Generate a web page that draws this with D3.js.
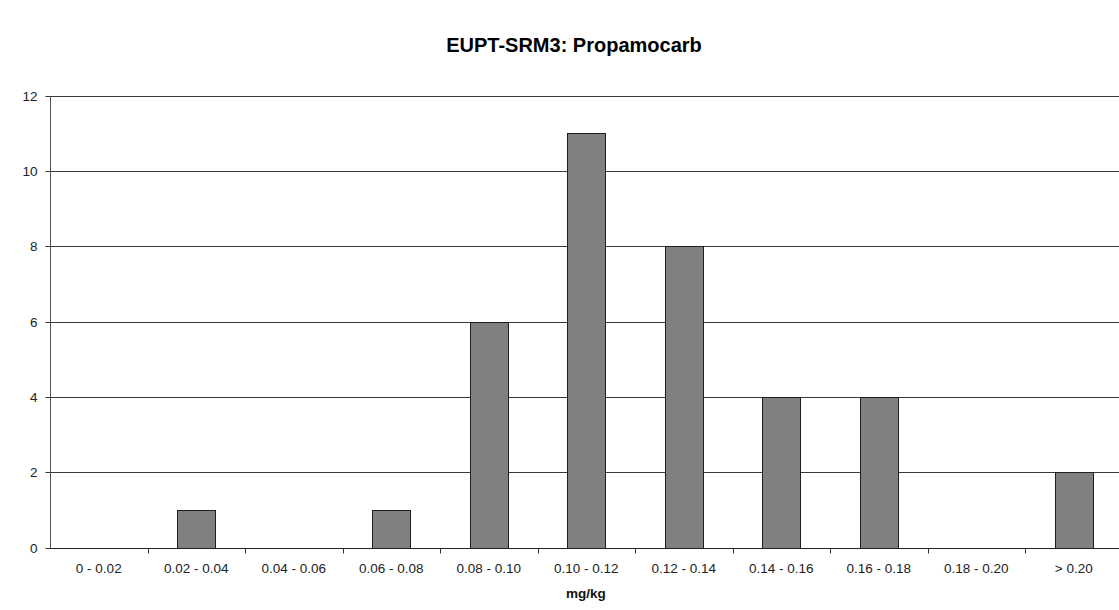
<!DOCTYPE html>
<html>
<head>
<meta charset="utf-8">
<script src="https://cdn.jsdelivr.net/npm/d3@7"></script>
<style>
  html, body { margin: 0; padding: 0; background: #ffffff; }
  svg { display: block; }
  text { font-family: "Liberation Sans", Arial, sans-serif; }
</style>
</head>
<body>
<svg id="chart" width="1119" height="610"></svg>
<script>
const title = "EUPT-SRM3: Propamocarb";
const xTitle = "mg/kg";
const categories = ["0 - 0.02", "0.02 - 0.04", "0.04 - 0.06", "0.06 - 0.08", "0.08 - 0.10",
  "0.10 - 0.12", "0.12 - 0.14", "0.14 - 0.16", "0.16 - 0.18", "0.18 - 0.20", "> 0.20"];
const counts = [0, 1, 0, 1, 6, 11, 8, 4, 4, 0, 2];
const yTicks = [0, 2, 4, 6, 8, 10, 12];

(function () {
const svg = d3.select("#chart");
const W = 1119, H = 610;
const pLeft = 50, pTop = 95.5, pBottom = 547.5;
const step = 97.5;
const labelSize = 13.5;

svg.append("rect").attr("width", W).attr("height", H).attr("fill", "#ffffff");

const x = d3.scaleBand().domain(categories).range([pLeft, pLeft + step * categories.length]).padding(0);
const y = d3.scaleLinear().domain([0, 12]).range([pBottom, pTop]);

// gridlines
svg.append("g").selectAll("line").data(yTicks.filter(d => d > 0)).join("line")
  .attr("x1", pLeft).attr("x2", W)
  .attr("y1", d => Math.round(y(d)) + 0.5).attr("y2", d => Math.round(y(d)) + 0.5)
  .attr("stroke", "#3a3a3a").attr("stroke-width", 1);

// bars
const barW = x.bandwidth() * 0.385;
svg.append("g").selectAll("rect").data(categories.map((c, i) => ({c, v: counts[i]})).filter(d => d.v > 0)).join("rect")
  .attr("x", d => Math.round(x(d.c) + (x.bandwidth() - barW) / 2) + 0.5)
  .attr("y", d => Math.round(y(d.v)) + 0.5)
  .attr("width", Math.round(barW))
  .attr("height", d => Math.round(y(0)) - Math.round(y(d.v)))
  .attr("fill", "#818081").attr("stroke", "#1e1e1e").attr("stroke-width", 1);

// y axis
const yAxis = d3.axisLeft(y).tickValues(yTicks).tickSize(5).tickPadding(8).tickFormat(d3.format("d"));
const gy = svg.append("g").attr("transform", `translate(${pLeft + 0.5},0.5)`).call(yAxis);
gy.select(".domain").attr("stroke", "#555").attr("d", `M0,${pTop}V${pBottom}`);
gy.selectAll(".tick line").attr("stroke", "#333");
gy.selectAll(".tick").attr("transform", d => `translate(0,${Math.round(y(d))})`);
gy.selectAll("text").attr("font-size", labelSize).attr("fill", "#222").attr("font-family", "Liberation Sans, Arial, sans-serif");

// x axis
const xAxis = d3.axisBottom(x).tickSize(0).tickPadding(15);
const gx = svg.append("g").attr("transform", `translate(0,${Math.round(pBottom) + 0.5})`).call(xAxis);
gx.select(".domain").attr("stroke", "#222").attr("d", `M${pLeft},0H${W}`);
gx.selectAll("text").attr("font-size", labelSize).attr("fill", "#222").attr("font-family", "Liberation Sans, Arial, sans-serif");
gx.append("g").selectAll("line").data(categories.slice(1)).join("line")
  .attr("x1", d => Math.round(x(d)) + 0.5).attr("x2", d => Math.round(x(d)) + 0.5)
  .attr("y1", 0).attr("y2", 5).attr("stroke", "#333");

// titles
svg.append("text").attr("x", 574).attr("y", 52).attr("text-anchor", "middle")
  .attr("font-size", 20).attr("font-weight", "bold").attr("fill", "#000").text(title);

svg.append("text").attr("x", 586).attr("y", 598).attr("text-anchor", "middle")
  .attr("font-size", 13.5).attr("font-weight", "bold").attr("fill", "#111").text(xTitle);
})();
</script>
</body>
</html>
